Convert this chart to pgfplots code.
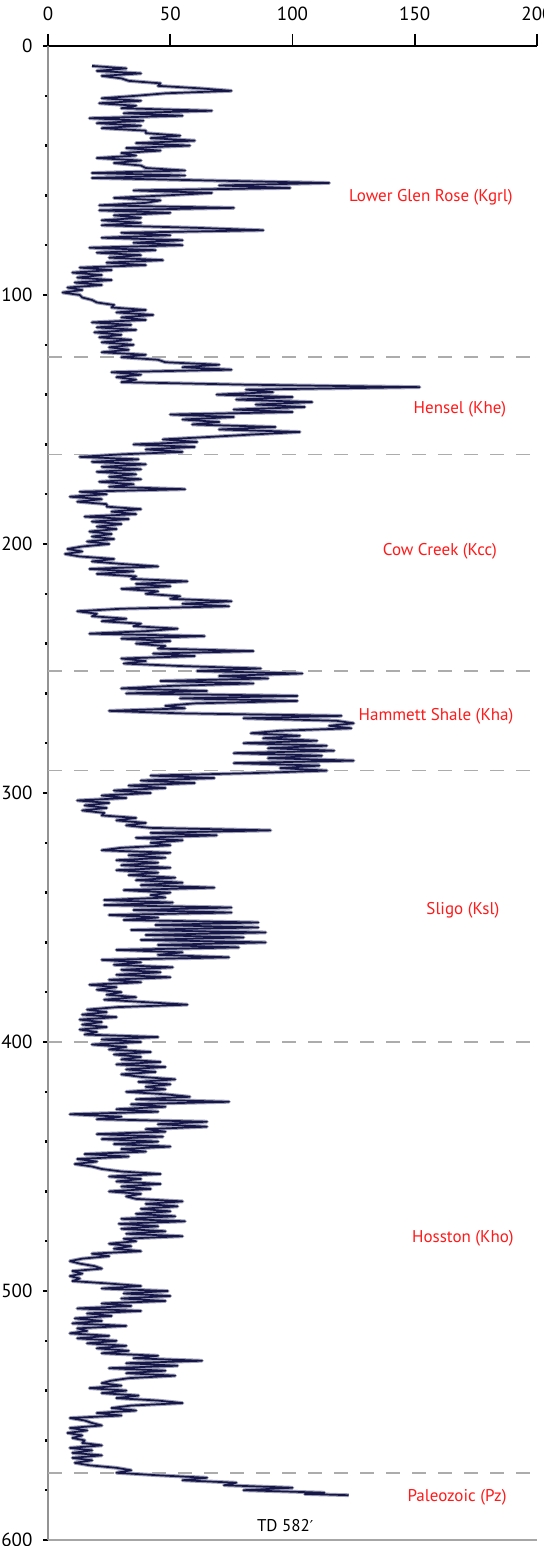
\documentclass[border=0pt]{standalone}
\usepackage{pgfplots}
\usepackage{pgfplotstable}
\pgfplotsset{compat=1.18}
\usepackage{fontspec}
\setmainfont{PT Sans}
\newfontfamily\dejavu{DejaVu Sans}
\definecolor{logline}{RGB}{22,22,72}
\definecolor{loghalo}{RGB}{160,163,182}
\definecolor{fmred}{RGB}{255,25,25}
\pgfplotstableread[row sep=\\]{
gr depth\\
18 8\\ 32 9\\ 20 10\\ 38 11\\ 22 12\\ 30 13\\ 33 14\\ 46 15\\ 45 16\\ 62 17\\
75 18\\ 48 19\\ 36 20\\ 22 21\\ 38 22\\ 21 23\\ 36 24\\ 30 25\\ 67 26\\ 31 27\\
55 28\\ 17 29\\ 39 30\\ 20 31\\ 38 32\\ 22 33\\ 40 34\\ 40 35\\ 54 36\\ 42 37\\
60 38\\ 36 39\\ 58 40\\ 32 41\\ 46 42\\ 30 43\\ 36 44\\ 20 45\\ 38 46\\ 27 47\\
38 48\\ 40 49\\ 56 50\\ 18 51\\ 56 52\\ 18 53\\ 65 54\\ 115 55\\ 70 56\\ 99 57\\
35 58\\ 67 59\\ 48 60\\ 27 61\\ 46 62\\ 40 63\\ 21 64\\ 76 65\\ 21 66\\ 50 67\\
27 68\\ 38 69\\ 22 70\\ 38 71\\ 22 72\\ 60 73\\ 88 74\\ 30 75\\ 50 76\\ 22 77\\
55 78\\ 35 79\\ 55 80\\ 17 81\\ 44 82\\ 20 83\\ 38 84\\ 25 85\\ 47 86\\ 24 87\\
40 88\\ 13 89\\ 26 90\\ 10 91\\ 22 92\\ 12 93\\ 26 94\\ 11 95\\ 22 96\\ 8 97\\
14 98\\ 6 99\\ 13 100\\ 14 101\\ 18 102\\ 20 103\\ 27 104\\ 26 105\\ 40 106\\ 28 107\\
43 108\\ 30 109\\ 40 110\\ 18 111\\ 34 112\\ 20 113\\ 36 114\\ 19 115\\ 30 116\\ 21 117\\
34 118\\ 22 119\\ 35 120\\ 25 121\\ 33 122\\ 22 123\\ 40 124\\ 30 125\\ 45 126\\ 48 127\\
70 128\\ 55 129\\ 75 130\\ 26 131\\ 38 132\\ 28 133\\ 36 134\\ 30 135\\ 80 136\\ 152 137\\
81 138\\ 92 139\\ 69 140\\ 100 141\\ 77 142\\ 108 143\\ 85 144\\ 105 145\\ 76 146\\ 100 147\\
50 148\\ 76 149\\ 55 150\\ 70 151\\ 59 152\\ 93 153\\ 70 154\\ 103 155\\ 84 156\\ 66 157\\
47 158\\ 61 159\\ 35 160\\ 60 161\\ 40 162\\ 55 163\\ 30 164\\ 13 165\\ 37 166\\ 18 167\\
40 168\\ 22 169\\ 38 170\\ 20 171\\ 36 172\\ 25 173\\ 38 174\\ 21 175\\ 35 176\\ 25 177\\
56 178\\ 13 179\\ 24 180\\ 9 181\\ 22 182\\ 12 183\\ 24 184\\ 24 185\\ 38 186\\ 26 187\\
36 188\\ 15 189\\ 33 190\\ 18 191\\ 30 192\\ 20 193\\ 28 194\\ 17 195\\ 26 196\\ 18 197\\
27 198\\ 16 199\\ 25 200\\ 14 201\\ 8 202\\ 14 203\\ 7 204\\ 13 205\\ 27 206\\ 18 207\\
30 208\\ 45 209\\ 17 210\\ 35 211\\ 20 212\\ 36 213\\ 34 214\\ 57 215\\ 36 216\\ 50 217\\
30 218\\ 45 219\\ 40 220\\ 54 221\\ 50 222\\ 75 223\\ 55 224\\ 74 225\\ 30 226\\ 12 227\\
20 228\\ 18 229\\ 32 230\\ 22 231\\ 38 232\\ 35 233\\ 53 234\\ 40 235\\ 17 236\\ 64 237\\
30 238\\ 50 239\\ 36 240\\ 48 241\\ 45 242\\ 84 243\\ 43 244\\ 60 245\\ 30 246\\ 40 247\\
31 248\\ 54 249\\ 87 250\\ 61 251\\ 104 252\\ 70 253\\ 90 254\\ 46 255\\ 84 256\\ 50 257\\
30 258\\ 65 259\\ 32 260\\ 102 261\\ 54 262\\ 102 263\\ 60 264\\ 48 265\\ 56 266\\ 25 267\\
54 268\\ 120 269\\ 80 270\\ 118 271\\ 125 272\\ 115 273\\ 124 274\\ 95 275\\ 83 276\\ 103 277\\
88 278\\ 110 279\\ 80 280\\ 114 281\\ 90 282\\ 117 283\\ 76 284\\ 112 285\\ 90 286\\ 125 287\\
76 288\\ 111 289\\ 95 290\\ 114 291\\ 84 292\\ 42 293\\ 68 294\\ 38 295\\ 60 296\\ 33 297\\
48 298\\ 27 299\\ 42 300\\ 22 301\\ 32 302\\ 12 303\\ 25 304\\ 15 305\\ 24 306\\ 14 307\\
23 308\\ 22 309\\ 36 310\\ 28 311\\ 40 312\\ 32 313\\ 42 314\\ 91 315\\ 42 316\\ 69 317\\
36 318\\ 55 319\\ 42 320\\ 50 321\\ 30 322\\ 22 323\\ 50 324\\ 33 325\\ 48 326\\ 28 327\\
45 328\\ 30 329\\ 50 330\\ 28 331\\ 45 332\\ 33 333\\ 52 334\\ 36 335\\ 55 336\\ 38 337\\
68 338\\ 31 339\\ 50 340\\ 42 341\\ 48 342\\ 23 343\\ 51 344\\ 23 345\\ 75 346\\ 35 347\\
75 348\\ 25 349\\ 45 350\\ 31 351\\ 86 352\\ 44 353\\ 86 354\\ 34 355\\ 89 356\\ 40 357\\
80 358\\ 38 359\\ 89 360\\ 45 361\\ 78 362\\ 28 363\\ 55 364\\ 45 365\\ 74 366\\ 22 367\\
38 368\\ 27 369\\ 51 370\\ 30 371\\ 46 372\\ 28 373\\ 50 374\\ 25 375\\ 38 376\\ 17 377\\
28 378\\ 20 379\\ 30 380\\ 24 381\\ 36 382\\ 23 383\\ 40 384\\ 57 385\\ 28 386\\ 16 387\\
24 388\\ 14 389\\ 28 390\\ 13 391\\ 22 392\\ 14 393\\ 24 394\\ 13 395\\ 20 396\\ 15 397\\
45 398\\ 22 399\\ 38 400\\ 18 401\\ 32 402\\ 25 403\\ 42 404\\ 27 405\\ 38 406\\ 30 407\\
46 408\\ 28 409\\ 48 410\\ 32 411\\ 44 412\\ 30 413\\ 38 414\\ 52 415\\ 37 416\\ 50 417\\
40 418\\ 48 419\\ 32 420\\ 48 421\\ 58 422\\ 36 423\\ 74 424\\ 34 425\\ 48 426\\ 28 427\\
45 428\\ 9 429\\ 30 430\\ 20 431\\ 65 432\\ 45 433\\ 65 434\\ 40 435\\ 48 436\\ 20 437\\
47 438\\ 22 439\\ 45 440\\ 27 441\\ 50 442\\ 30 443\\ 40 444\\ 15 445\\ 33 446\\ 12 447\\
20 448\\ 11 449\\ 18 450\\ 22 451\\ 30 452\\ 46 453\\ 25 454\\ 38 455\\ 28 456\\ 46 457\\
30 458\\ 42 459\\ 25 460\\ 38 461\\ 32 462\\ 36 463\\ 55 464\\ 40 465\\ 53 466\\ 38 467\\
50 468\\ 36 469\\ 52 470\\ 30 471\\ 56 472\\ 29 473\\ 45 474\\ 30 475\\ 48 476\\ 32 477\\
55 478\\ 31 479\\ 36 480\\ 25 481\\ 34 482\\ 27 483\\ 38 484\\ 18 485\\ 25 486\\ 14 487\\
9 488\\ 13 489\\ 19 490\\ 22 491\\ 10 492\\ 14 493\\ 9 494\\ 13 495\\ 10 496\\ 25 497\\
38 498\\ 22 499\\ 49 500\\ 31 501\\ 50 502\\ 30 503\\ 48 504\\ 22 505\\ 34 506\\ 12 507\\
38 508\\ 16 509\\ 26 510\\ 11 511\\ 22 512\\ 10 513\\ 32 514\\ 12 515\\ 16 516\\ 9 517\\
25 518\\ 12 519\\ 28 520\\ 16 521\\ 32 522\\ 20 523\\ 33 524\\ 22 525\\ 45 526\\ 35 527\\
63 528\\ 32 529\\ 53 530\\ 25 531\\ 48 532\\ 32 533\\ 52 534\\ 33 535\\ 26 536\\ 22 537\\
30 538\\ 17 539\\ 32 540\\ 22 541\\ 37 542\\ 28 543\\ 45 544\\ 55 545\\ 34 546\\ 26 547\\
36 548\\ 20 549\\ 30 550\\ 9 551\\ 15 552\\ 18 553\\ 22 554\\ 9 555\\ 16 556\\ 8 557\\
14 558\\ 10 559\\ 15 560\\ 14 561\\ 22 562\\ 9 563\\ 18 564\\ 10 565\\ 22 566\\ 10 567\\
18 568\\ 11 569\\ 17 570\\ 28 571\\ 34 572\\ 28 573\\ 45 574\\ 65 575\\ 55 576\\ 77 577\\
72 578\\ 100 579\\ 80 580\\ 113 581\\ 105 581.5\\ 123 582\\
}\grlog
\begin{document}
\begin{tikzpicture}
\path[use as bounding box] (-24pt,-3pt) rectangle (247.5pt,770pt);
\begin{axis}[
  scale only axis, width=244.5pt, height=747pt,
  xmin=0, xmax=200, ymin=0, ymax=600, y dir=reverse,
  axis x line*=top, axis y line*=left,
  x axis line style={black, line width=1.1pt},
  y axis line style={gray!85, line width=0.7pt},
  xtick={0,50,...,200}, ytick={0,100,...,600}, minor y tick num=4,
  xticklabel pos=top,
  tick align=outside,
  xtick style={black, line width=0.9pt, /pgfplots/major tick length=6pt},
  ytick style={black, line width=1.2pt, /pgfplots/major tick length=2.5pt},
  minor y tick style={black, line width=1.2pt, /pgfplots/minor tick length=1.5pt},
  /pgf/number format/assume math mode=true,
  tick label style={font=\fontsize{9.5}{11}\selectfont, black},
  xticklabel style={yshift=5pt},
  clip=false,
]
\addplot[gray!70, line width=0.6pt] coordinates {(0,600) (200,600)};
\foreach \d in {125,164,251,291,400,573}{
  \edef\tmp{\noexpand\addplot[gray!65, line width=0.8pt, dash pattern=on 7pt off 6pt] coordinates {(0,\d) (200,\d)};}
  \tmp
}
\addplot[loghalo, line width=1.9pt, line join=round] table[x=gr, y=depth]{\grlog};
\addplot[logline, line width=0.85pt, line join=round] table[x=gr, y=depth]{\grlog};
\begin{scope}[every node/.style={font=\fontsize{8.5}{10}\selectfont, text=fmred}]
\node at (axis cs:156.6,60.6) {Lower Glen Rose (Kgrl)};
\node at (axis cs:168.5,146) {Hensel (Khe)};
\node at (axis cs:160.3,203) {Cow Creek (Kcc)};
\node at (axis cs:158.7,269) {Hammett Shale (Kha)};
\node at (axis cs:169.7,347) {Sligo (Ksl)};
\node at (axis cs:169.7,479) {Hosston (Kho)};
\node at (axis cs:167.3,583) {Paleozoic (Pz)};
\end{scope}
\node[font=\fontsize{8.5}{10}\selectfont] at (axis cs:97,594) {TD 582{\dejavu\fontsize{7.5}{9}\selectfont ′}};
\end{axis}
\end{tikzpicture}
\end{document}
